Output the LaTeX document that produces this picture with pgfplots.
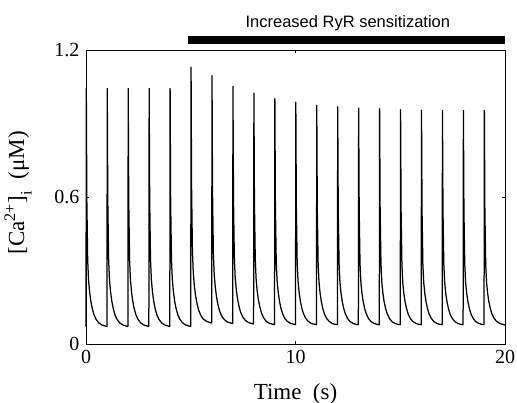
\documentclass[border=0pt]{standalone}
\usepackage{pgfplots}
\pgfplotsset{compat=1.18}
\usepackage{fontspec}
\setmainfont{Liberation Serif}
\newfontfamily\annfont{Liberation Sans}
\begin{document}
\begin{tikzpicture}
\useasboundingbox (0,0) rectangle (517bp,403bp);
\begin{axis}[
 at={(86bp,59bp)}, anchor=south west,
 scale only axis, width=419bp, height=293.5bp,
 xmin=0, xmax=20, ymin=0, ymax=1.2,
 xtick={0,10,20}, ytick={0,0.6,1.2},
 xticklabels={0,10,20}, yticklabels={0,0.6,1.2},
 tick align=inside, major tick length=3bp,
 tick style={black, line width=0.6bp},
 axis line style={line width=0.8bp},
 clip=false,
 ticklabel style={font=\fontsize{20bp}{23bp}\selectfont},
 xticklabel style={yshift=-3bp},
 yticklabel style={xshift=-3bp},
 xlabel={Time\ \ (s)},
 ylabel={[Ca\textsuperscript{2+}]\raisebox{-0.35ex}{\textsubscript{i}}\ \ (μM)},
 label style={font=\fontsize{23bp}{27bp}\selectfont},
 xlabel style={at={(axis description cs:0.5,0)}, anchor=base, yshift=-55.5bp},
 ylabel style={at={(axis description cs:-0.162,0.515)}, anchor=center},
]
\addplot[black, line width=8.3bp, forget plot] coordinates {(4.87,1.244) (20.02,1.244)};
\node[font=\annfont\fontsize{16.5bp}{19bp}\selectfont, anchor=base] at (axis cs:12.5,1.296) {Increased RyR sensitization};
\addplot[black, line width=1.25bp, line join=round, mark=none] table {
x y
0 0.070
0.015 1.045
0.04 0.589
0.08 0.345
0.12 0.264
0.17 0.215
0.23 0.176
0.30 0.145
0.38 0.120
0.48 0.101
0.60 0.087
0.75 0.078
0.90 0.074
1 0.071
1.015 1.045
1.04 0.589
1.08 0.345
1.12 0.264
1.17 0.215
1.23 0.176
1.30 0.145
1.38 0.120
1.48 0.101
1.60 0.087
1.75 0.078
1.90 0.074
2 0.071
2.015 1.045
2.04 0.589
2.08 0.345
2.12 0.264
2.17 0.215
2.23 0.176
2.30 0.145
2.38 0.120
2.48 0.101
2.60 0.087
2.75 0.078
2.90 0.074
3 0.071
3.015 1.045
3.04 0.589
3.08 0.345
3.12 0.264
3.17 0.215
3.23 0.176
3.30 0.145
3.38 0.120
3.48 0.101
3.60 0.087
3.75 0.078
3.90 0.074
4 0.071
4.015 1.045
4.04 0.589
4.08 0.345
4.12 0.264
4.17 0.215
4.23 0.176
4.30 0.145
4.38 0.120
4.48 0.101
4.60 0.087
4.75 0.078
4.90 0.074
5 0.072
5.015 1.132
5.04 0.642
5.08 0.380
5.12 0.293
5.17 0.240
5.23 0.198
5.30 0.165
5.38 0.138
5.48 0.117
5.60 0.102
5.75 0.093
5.90 0.088
6 0.086
6.015 1.098
6.04 0.623
6.08 0.369
6.12 0.284
6.17 0.233
6.23 0.193
6.30 0.160
6.38 0.134
6.48 0.114
6.60 0.100
6.75 0.090
6.90 0.086
7 0.084
7.015 1.054
7.04 0.598
7.08 0.355
7.12 0.274
7.17 0.225
7.23 0.186
7.30 0.155
7.38 0.130
7.48 0.111
7.60 0.097
7.75 0.088
7.90 0.084
8 0.082
8.015 1.026
8.04 0.582
8.08 0.345
8.12 0.266
8.17 0.218
8.23 0.180
8.30 0.150
8.38 0.126
8.48 0.107
8.60 0.093
8.75 0.085
8.90 0.081
9 0.079
9.015 1.003
9.04 0.570
9.08 0.338
9.12 0.261
9.17 0.215
9.23 0.178
9.30 0.148
9.38 0.125
9.48 0.106
9.60 0.093
9.75 0.085
9.90 0.081
10 0.079
10.015 0.989
10.04 0.562
10.08 0.334
10.12 0.259
10.17 0.213
10.23 0.176
10.30 0.147
10.38 0.124
10.48 0.106
10.60 0.093
10.75 0.084
10.90 0.081
11 0.079
11.015 0.976
11.04 0.555
11.08 0.331
11.12 0.256
11.17 0.211
11.23 0.175
11.30 0.146
11.38 0.123
11.48 0.105
11.60 0.093
11.75 0.084
11.90 0.080
12 0.079
12.015 0.970
12.04 0.552
12.08 0.329
12.12 0.255
12.17 0.210
12.23 0.174
12.30 0.146
12.38 0.123
12.48 0.105
12.60 0.092
12.75 0.084
12.90 0.080
13 0.079
13.015 0.965
13.04 0.549
13.08 0.327
13.12 0.254
13.17 0.209
13.23 0.174
13.30 0.145
13.38 0.123
13.48 0.105
13.60 0.092
13.75 0.084
13.90 0.080
14 0.079
14.015 0.962
14.04 0.548
14.08 0.327
14.12 0.253
14.17 0.209
14.23 0.173
14.30 0.145
14.38 0.123
14.48 0.105
14.60 0.092
14.75 0.084
14.90 0.080
15 0.079
15.015 0.958
15.04 0.546
15.08 0.325
15.12 0.252
15.17 0.208
15.23 0.173
15.30 0.145
15.38 0.122
15.48 0.105
15.60 0.092
15.75 0.084
15.90 0.080
16 0.079
16.015 0.956
16.04 0.545
16.08 0.325
16.12 0.252
16.17 0.208
16.23 0.173
16.30 0.145
16.38 0.122
16.48 0.105
16.60 0.092
16.75 0.084
16.90 0.080
17 0.079
17.015 0.955
17.04 0.544
17.08 0.325
17.12 0.252
17.17 0.208
17.23 0.173
17.30 0.145
17.38 0.122
17.48 0.105
17.60 0.092
17.75 0.084
17.90 0.080
18 0.079
18.015 0.955
18.04 0.544
18.08 0.325
18.12 0.252
18.17 0.208
18.23 0.173
18.30 0.145
18.38 0.122
18.48 0.105
18.60 0.092
18.75 0.084
18.90 0.080
19 0.079
19.015 0.955
19.04 0.544
19.08 0.325
19.12 0.252
19.17 0.208
19.23 0.173
19.30 0.145
19.38 0.122
19.48 0.105
19.60 0.092
19.75 0.084
19.90 0.080
20 0.078
};
\end{axis}
\end{tikzpicture}
\end{document}
